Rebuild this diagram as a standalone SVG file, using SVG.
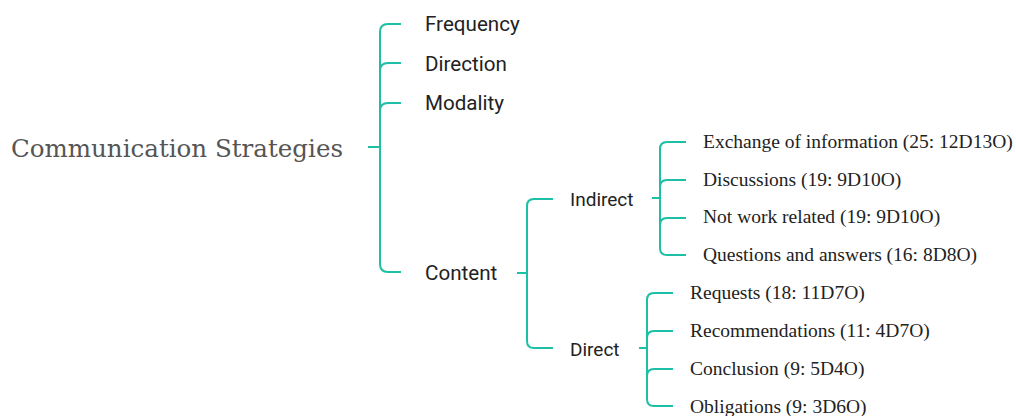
<svg xmlns="http://www.w3.org/2000/svg" width="1016" height="416" viewBox="0 0 1016 416">
<style>
.c{fill:none;stroke:#1dbfa6;stroke-width:2;stroke-linecap:butt}
.root{font-family:"DejaVu Serif","Liberation Serif",serif;font-size:24px;fill:#555}
.l0{font-family:Roboto,"Liberation Sans",sans-serif;font-size:20.6px;fill:#222}
.l1{font-family:Roboto,"Liberation Sans",sans-serif;font-size:19px;fill:#222}
.l2{font-family:"Liberation Serif",serif;font-size:19.5px;fill:#222}
</style>
<rect width="1016" height="416" fill="#fff"/>
<g id="connectors">
<path class="c" d="M368 147H380"/>
<path class="c" d="M401 24H388Q380 24 380 32V264Q380 272 388 272H401"/>
<path class="c" d="M380 71Q380 63 388 63H401"/>
<path class="c" d="M380 111Q380 103 388 103H401"/>
<path class="c" d="M517 273H527"/>
<path class="c" d="M553 199H534Q527 199 527 206V341Q527 348 534 348H553"/>
<path class="c" d="M652 198H660"/>
<path class="c" d="M686 142H667Q660 142 660 149V248Q660 255 667 255H686"/>
<path class="c" d="M660 187Q660 180 667 180H686"/>
<path class="c" d="M660 225Q660 218 667 218H686"/>
<path class="c" d="M639 348H647"/>
<path class="c" d="M673 293H654Q647 293 647 300V399Q647 406 654 406H673"/>
<path class="c" d="M647 338Q647 331 654 331H673"/>
<path class="c" d="M647 376Q647 369 654 369H673"/>
</g>
<g id="root"><text class="root" x="11" y="157" textLength="332" lengthAdjust="spacingAndGlyphs">Communication Strategies</text></g>
<g id="frequency"><text class="l0" x="425" y="31">Frequency</text></g>
<g id="direction"><text class="l0" x="425" y="71">Direction</text></g>
<g id="modality"><text class="l0" x="425" y="110">Modality</text></g>
<g id="content"><text class="l0" x="425" y="280">Content</text></g>
<g id="indirect"><text class="l1" x="570" y="206">Indirect</text></g>
<g id="direct"><text class="l1" x="570" y="356">Direct</text></g>
<g id="exchange"><text class="l2" x="703" y="148">Exchange of information (25: 12D13O)</text></g>
<g id="discussions"><text class="l2" x="703" y="186">Discussions (19: 9D10O)</text></g>
<g id="notwork"><text class="l2" x="703" y="223">Not work related (19: 9D10O)</text></g>
<g id="questions"><text class="l2" x="703" y="261">Questions and answers (16: 8D8O)</text></g>
<g id="requests"><text class="l2" x="690" y="299">Requests (18: 11D7O)</text></g>
<g id="recommendations"><text class="l2" x="690" y="337">Recommendations (11: 4D7O)</text></g>
<g id="conclusion"><text class="l2" x="690" y="375">Conclusion (9: 5D4O)</text></g>
<g id="obligations"><text class="l2" x="690" y="413">Obligations (9: 3D6O)</text></g>
</svg>
